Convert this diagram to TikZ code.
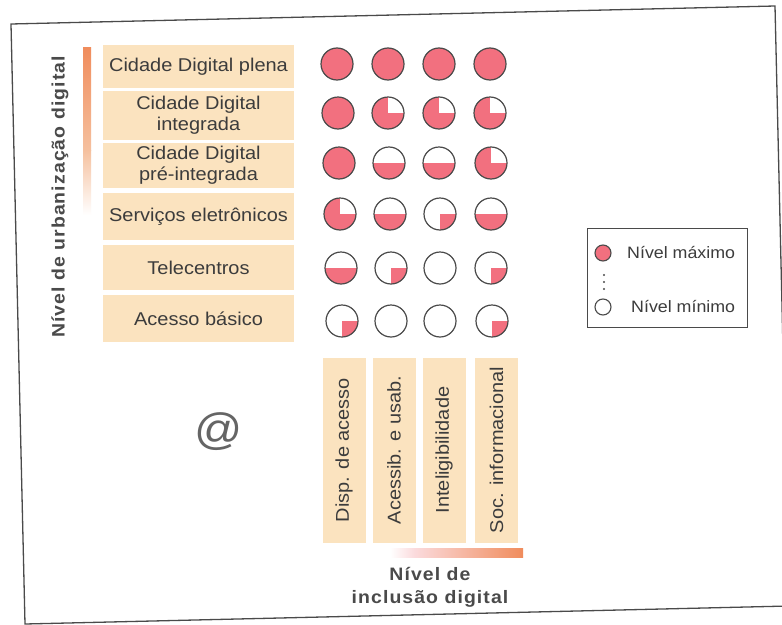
\documentclass[tikz,border=0pt]{standalone}
\usepackage{fontspec}
\setmainfont{Liberation Sans}[FakeStretch=1.08]
\definecolor{pinkc}{HTML}{F2707F}
\definecolor{boxc}{HTML}{FBE3BF}
\definecolor{txt}{HTML}{3C3C3C}
\definecolor{edge}{HTML}{4A4A4A}
\definecolor{orng}{HTML}{F08C5C}
\definecolor{peach}{HTML}{F5C09E}
\definecolor{faintpink}{HTML}{FBDADC}
\begin{document}
\begin{tikzpicture}[x=1pt,y=1pt,
  rowbox/.style={fill=boxc, minimum width=191pt, inner sep=0pt, align=center, text=txt, font=\fontsize{18.5}{21}\selectfont},
  colbox/.style={fill=boxc, rotate=90, minimum width=185pt, minimum height=43pt, inner sep=0pt, text=txt, font=\fontsize{18.5}{21}\selectfont},
  dot/.style={circle, draw=edge, line width=1.2pt, minimum size=32pt, inner sep=0pt, fill=white},
  pfull/.style={dot, fill=pinkc},
  ptq/.style={dot, fill=pinkc, path picture={\fill[white] (path picture bounding box.center) rectangle (path picture bounding box.north east);}},
  phalf/.style={dot, path picture={\fill[pinkc] (path picture bounding box.west) rectangle (path picture bounding box.south east);}},
  pq/.style={dot, path picture={\fill[pinkc] (path picture bounding box.center) rectangle (path picture bounding box.south east);}},
  pempty/.style={dot},
  legdot/.style={circle, draw=edge, line width=1.1pt, minimum size=16pt, inner sep=0pt},
  legtext/.style={anchor=west, inner sep=0pt, text=txt, font=\fontsize{16.5}{18}\selectfont},
  axislabel/.style={text=edge, inner sep=0pt},
]
\useasboundingbox (0,0) rectangle (782,-624);
\clip (0,0) rectangle (782,-624);
\fill[white] (0,0) rectangle (782,-624);

% frame
\draw[edge, line width=1.3pt] (11,-24) -- (775,-6) -- (789,-606) -- (25,-624) -- cycle;

% vertical gradient bar
\shade[top color=orng, bottom color=peach] (83,-47) rectangle (91,-150);
\shade[top color=peach, middle color=faintpink, bottom color=white] (83,-150) rectangle (91,-215);
% horizontal gradient bar
\shade[left color=white, right color=faintpink] (390,-548) rectangle (415,-557);
\shade[left color=faintpink, right color=orng] (415,-548) rectangle (523,-557);

% axis labels
\node[axislabel, rotate=90, font=\bfseries\fontsize{18}{20}\selectfont\addfontfeature{LetterSpace=6}] (ylab) at (60,-197) {Nível de urbanização digital};
\node[axislabel, align=center, font=\bfseries\fontsize{18}{23}\selectfont\addfontfeature{LetterSpace=6}] (xlab) at (430,-587) {Nível de\\inclusão digital};

% row boxes
\node[rowbox, minimum height=43pt] (r1) at (198.5,-66.5) {Cidade Digital plena};
\node[rowbox, minimum height=49pt] (r2) at (198.5,-115.5) {Cidade Digital\\integrada};
\node[rowbox, minimum height=45pt] (r3) at (198.5,-165.5) {Cidade Digital\\pré-integrada};
\node[rowbox, minimum height=47pt] (r4) at (198.5,-216.5) {Serviços eletrônicos};
\node[rowbox, minimum height=45pt] (r5) at (198.5,-267.5) {Telecentros};
\node[rowbox, minimum height=47pt] (r6) at (198.5,-318.5) {Acesso básico};

% column boxes
\node[colbox] (k1) at (344,-450) {Disp. de acesso};
\node[colbox] (k2) at (394,-450) {Acessib. e usab.};
\node[colbox] (k3) at (444,-450) {Inteligibilidade};
\node[colbox] (k4) at (496.5,-450) {Soc. informacional};

% circles grid
\node[pfull] (c11) at (337,-64) {};
\node[pfull] (c12) at (388,-64) {};
\node[pfull] (c13) at (439,-64) {};
\node[pfull] (c14) at (490,-64) {};

\node[pfull] (c21) at (338,-113) {};
\node[ptq]   (c22) at (388,-113) {};
\node[ptq]   (c23) at (439,-113) {};
\node[ptq]   (c24) at (490,-113) {};

\node[pfull] (c31) at (339,-163) {};
\node[phalf] (c32) at (389,-163) {};
\node[phalf] (c33) at (439,-163) {};
\node[ptq]   (c34) at (491,-163) {};

\node[ptq]   (c41) at (340,-214) {};
\node[phalf] (c42) at (390,-214) {};
\node[pq]    (c43) at (440,-214) {};
\node[phalf] (c44) at (491,-214) {};

\node[phalf] (c51) at (341,-268) {};
\node[pq]    (c52) at (391,-268) {};
\node[pempty] (c53) at (440,-268) {};
\node[pq]    (c54) at (491,-268) {};

\node[pq]    (c61) at (342,-321) {};
\node[pempty] (c62) at (391,-321) {};
\node[pempty] (c63) at (440,-321) {};
\node[pq]    (c64) at (492,-321) {};

% @
\node[text=edge!85, inner sep=0pt, font=\fontsize{44}{44}\selectfont] (at) at (219,-432) {@};

% legend
\node[draw=edge, line width=1pt, minimum width=160pt, minimum height=99pt, inner sep=0pt] (leg) at (667,-277.5) {};
\node[legdot, fill=pinkc] (lmax) at (603,-253) {};
\node[legtext] (tmax) at (627,-253) {Nível máximo};
\fill[edge] (604,-275) circle (1.2) (604,-282) circle (1.2) (604,-289) circle (1.2);
\node[legdot, fill=white] (lmin) at (603,-307) {};
\node[legtext] (tmin) at (631,-307) {Nível mínimo};
\end{tikzpicture}
\end{document}
